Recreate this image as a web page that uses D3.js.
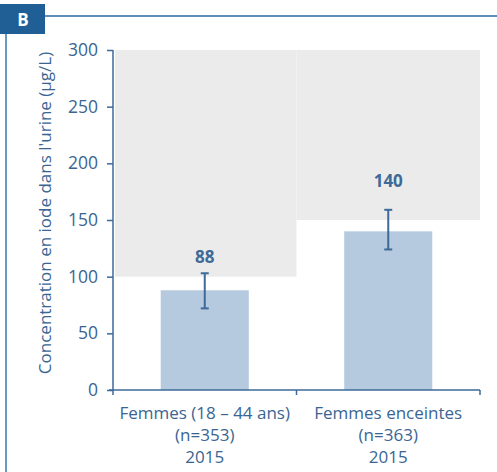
<!DOCTYPE html>
<html><head><meta charset="utf-8">
<script src="https://cdn.jsdelivr.net/npm/d3@7"></script>
<style>body{margin:0;background:#fff}svg{display:block}</style>
</head><body>
<svg id="c" width="497" height="472"></svg>
<script>
const categories = [["Femmes (18 – 44 ans)", "(n=353)", "2015"], ["Femmes enceintes", "(n=363)", "2015"]];
const values = [88, 140];
const errLow = [72, 124];
const errHigh = [103, 159];
const refLower = [100, 150];
const refUpper = 300;
const yTicks = [0, 50, 100, 150, 200, 250, 300];
const yTitle = "Concentration en iode dans l'urine (µg/L)";
const badge = "B";
const labelPad = [10, 23];

const svg = d3.select("#c");
const font = "'Open Sans', sans-serif";
const txt = "#3a6593";
const axisCol = "#3d6a98";

// frame
svg.append("rect").attr("x",0).attr("y",4).attr("width",45).attr("height",30).attr("fill","#1f5f95");
svg.append("text").attr("x",23).attr("y",26).attr("text-anchor","middle").attr("fill","#fff")
  .attr("font-family",font).attr("font-weight","bold").attr("font-size",17).text(badge);
svg.append("line").attr("x1",45).attr("x2",497).attr("y1",16).attr("y2",16).attr("stroke","#2a6aa0").attr("stroke-width",1.5);
svg.append("line").attr("x1",6).attr("x2",6).attr("y1",34).attr("y2",472).attr("stroke","#6a9ac4").attr("stroke-width",2);

const x = d3.scaleBand().domain(d3.range(categories.length)).range([113,480]).paddingInner(0).paddingOuter(0);
const y = d3.scaleLinear().domain([0,300]).range([390,50]);

// reference ranges
svg.selectAll("rect.ref").data(refLower).join("rect").attr("class","ref")
  .attr("x",(d,i)=>x(i)+ (i===0?2:0)).attr("width",(d,i)=>x.bandwidth()-(i===0?2:0))
  .attr("y",y(refUpper)).attr("height",d=>y(d)-y(refUpper)).attr("fill","#ebebeb");

// bars
const bw = x.bandwidth()*0.48;
svg.selectAll("rect.bar").data(values).join("rect").attr("class","bar")
  .attr("x",(d,i)=>x(i)+x.bandwidth()/2-bw/2).attr("width",bw)
  .attr("y",d=>y(d)).attr("height",d=>y(0)-y(d)).attr("fill","#b6cadf");

// error bars
const eg = svg.append("g").attr("stroke","#3d6a98").attr("stroke-width",2);
values.forEach((v,i)=>{
  const cx = x(i)+x.bandwidth()/2;
  eg.append("line").attr("x1",cx).attr("x2",cx).attr("y1",y(errLow[i])).attr("y2",y(errHigh[i]));
  eg.append("line").attr("x1",cx-4).attr("x2",cx+4).attr("y1",y(errLow[i])).attr("y2",y(errLow[i]));
  eg.append("line").attr("x1",cx-4).attr("x2",cx+4).attr("y1",y(errHigh[i])).attr("y2",y(errHigh[i]));
  svg.append("text").attr("x",cx).attr("y",y(errHigh[i])-labelPad[i]).attr("text-anchor","middle")
    .attr("fill","#3d6a98").attr("font-family",font).attr("font-weight","bold").attr("font-size",17).text(v);
});

// y axis
const ya = svg.append("g").attr("transform","translate(113,0)")
  .call(d3.axisLeft(y).tickValues(yTicks).tickSize(6).tickPadding(9));
ya.select(".domain").attr("d","M0,"+y(300)+"V"+y(0)).attr("stroke",axisCol).attr("stroke-width",1.5);
ya.selectAll(".tick line").attr("stroke",axisCol).attr("stroke-width",1.5);
ya.selectAll(".tick text").attr("fill",txt).attr("font-family",font).attr("font-size",17.5);

// x axis
const xa = svg.append("g").attr("transform","translate(0,390)");
xa.append("line").attr("x1",109).attr("x2",480).attr("y1",0).attr("y2",0).attr("stroke",axisCol).attr("stroke-width",1.5);
[113, x(1), 480].forEach(t=>{
  xa.append("line").attr("x1",t).attr("x2",t).attr("y1",0).attr("y2",5).attr("stroke",axisCol).attr("stroke-width",1.5);
});
categories.forEach((lines,i)=>{
  lines.forEach((l,j)=>xa.append("text").attr("x",x(i)+x.bandwidth()/2).attr("y",29+j*22).attr("text-anchor","middle")
    .attr("fill",txt).attr("font-family",font).attr("font-size",17).text(l));
});

// y title
svg.append("text").attr("transform","translate(51,213) rotate(-90)")
  .attr("text-anchor","middle").attr("fill",txt).attr("font-family",font).attr("font-size",17).text(yTitle);
</script>
</body></html>
